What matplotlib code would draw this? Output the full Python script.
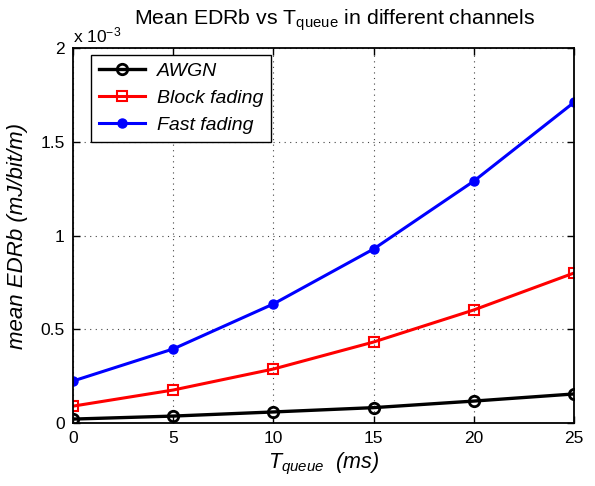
import matplotlib
matplotlib.use("Agg")
import matplotlib.pyplot as plt

plt.rcParams['font.family'] = ['Liberation Sans', 'DejaVu Sans']
plt.rcParams['mathtext.fontset'] = 'custom'
plt.rcParams['mathtext.rm'] = 'Liberation Sans'
plt.rcParams['mathtext.it'] = 'Liberation Sans:italic'

# T_queue in ms, mean EDRb in units of 1e-3 mJ/bit/m
t_queue = [0, 5, 10, 15, 20, 25]
awgn = [0.021, 0.037, 0.059, 0.082, 0.117, 0.155]
block_fading = [0.090, 0.176, 0.288, 0.432, 0.603, 0.800]
fast_fading = [0.224, 0.395, 0.635, 0.928, 1.290, 1.710]
x_ticks = [0, 5, 10, 15, 20, 25]
y_ticks = [0, 0.5, 1, 1.5, 2]
y_tick_labels = ['0', '0.5', '1', '1.5', '2']

fig = plt.figure(figsize=(5.95, 4.86), dpi=100)
ax = fig.add_axes([0.1227, 0.1296, 0.8420, 0.7716])

ax.plot(t_queue, awgn, color='black', lw=2.4, marker='o', ms=7.5,
        mfc='none', mew=2, label='AWGN')
ax.plot(t_queue, block_fading, color='red', lw=2.2, marker='s', ms=7,
        mfc='none', mew=1.5, label='Block fading')
ax.plot(t_queue, fast_fading, color='blue', lw=2.2, marker='o', ms=6.5,
        label='Fast fading')

ax.set_xlim(0, 25)
ax.set_ylim(0, 2)
ax.set_xticks(x_ticks)
ax.set_yticks(y_ticks)
ax.set_yticklabels(y_tick_labels)
ax.tick_params(direction='in', top=True, right=True, length=5, width=1,
               labelsize=12.5, pad=6)
ax.grid(True, color='#444444', linestyle=(0, (1, 4)), linewidth=0.8)
for s in ax.spines.values():
    s.set_linewidth(1.3)

ax.set_title(r'Mean EDRb vs T$_{\mathrm{queue}}$ in different channels',
             fontsize=15.3, pad=17, x=0.523)
ax.set_xlabel(r'$T_{queue}$  (ms)', fontsize=15.5, fontstyle='italic', labelpad=3)
ax.set_ylabel('mean EDRb (mJ/bit/m)', fontsize=16, fontstyle='italic',
              labelpad=9)
ax.text(0.0, 1.006, r'x 10$^{-3}$', transform=ax.transAxes, fontsize=12.5,
        ha='left', va='bottom')

leg = ax.legend(loc='upper left', bbox_to_anchor=(0.036, 0.982),
                borderaxespad=0, prop={'style': 'italic', 'size': 14},
                fancybox=False, edgecolor='black', framealpha=1,
                handlelength=2.4, handletextpad=0.6, borderpad=0.4,
                labelspacing=0.48)
leg.get_frame().set_linewidth(1.0)

fig.savefig('out.png', dpi=100)
